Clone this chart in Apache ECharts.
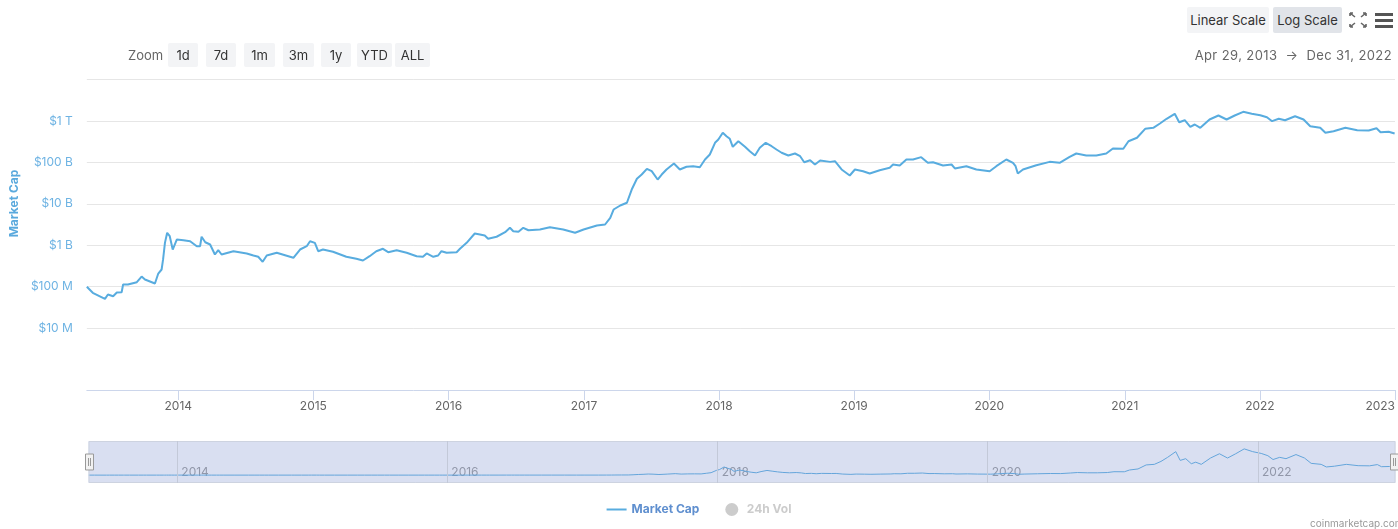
<!DOCTYPE html>
<html><head><meta charset="utf-8">
<script src="https://cdn.jsdelivr.net/npm/echarts@6/dist/echarts.min.js"></script>
<style>
html,body{margin:0;padding:0;background:#fff;}
#chart{position:absolute;left:0;top:0;width:1398px;height:529px;}
.tb{position:absolute;font-family:Inter,'Noto Sans',sans-serif;font-size:13px;color:#333;white-space:nowrap;}
.btn{height:24px;line-height:24px;background:#f3f4f6;border-radius:2px;text-align:center;}
</style></head><body>
<div id="chart"></div>
<div class="tb" style="left:128px;top:47px;color:#666;">Zoom</div>
<div class="tb btn" style="left:168px;top:43px;width:30px;">1d</div>
<div class="tb btn" style="left:206px;top:43px;width:30px;">7d</div>
<div class="tb btn" style="left:244px;top:43px;width:31px;">1m</div>
<div class="tb btn" style="left:283px;top:43px;width:31px;">3m</div>
<div class="tb btn" style="left:321px;top:43px;width:30px;">1y</div>
<div class="tb btn" style="left:357px;top:43px;width:35px;">YTD</div>
<div class="tb btn" style="left:395px;top:43px;width:35px;">ALL</div>
<div class="tb btn" style="left:1187px;top:7px;width:82px;height:26px;line-height:26px;">Linear Scale</div>
<div class="tb btn" style="left:1273px;top:7px;width:69px;height:26px;line-height:26px;background:#e1e4e9;">Log Scale</div>
<svg class="tb" style="left:1348px;top:11px;" width="20" height="18" viewBox="0 0 20 18">
 <g stroke="#666" stroke-width="1.6" fill="none">
  <path d="M2 2 L7 6 M2 2 L2 5 M2 2 L5 2"/>
  <path d="M18 2 L13 6 M18 2 L18 5 M18 2 L15 2"/>
  <path d="M2 16 L7 12 M2 16 L2 13 M2 16 L5 16"/>
  <path d="M18 16 L13 12 M18 16 L18 13 M18 16 L15 16"/>
 </g>
</svg>
<svg class="tb" style="left:1374px;top:11px;" width="20" height="18" viewBox="0 0 20 18">
 <rect x="1" y="2" width="18" height="3" fill="#555"/>
 <rect x="1" y="8" width="18" height="3" fill="#555"/>
 <rect x="1" y="14" width="18" height="3" fill="#555"/>
</svg>
<div class="tb" style="right:6px;top:47px;color:#666;letter-spacing:0.4px;">Apr 29, 2013 &nbsp;→&nbsp; Dec 31, 2022</div>
<div class="tb" style="left:1310px;top:517px;color:#999;font-size:10px;">coinmarketcap.com</div>
<script>
// ---- data ----
const dates = [
'2013-04-29','2013-05-15','2013-06-17','2013-06-25','2013-07-09','2013-07-19','2013-08-01','2013-08-05','2013-08-18','2013-09-11',
'2013-09-24','2013-10-03','2013-10-30','2013-11-08','2013-11-17','2013-11-21','2013-11-26','2013-12-02','2013-12-09','2013-12-17',
'2013-12-28','2014-01-15','2014-02-02','2014-02-20','2014-03-01','2014-03-05','2014-03-15','2014-03-28','2014-04-10','2014-04-19',
'2014-04-28','2014-05-30','2014-07-05','2014-07-23','2014-08-05','2014-08-17','2014-08-28','2014-09-24','2014-10-30','2014-11-08',
'2014-11-26','2014-12-14','2014-12-23','2015-01-05','2015-01-14','2015-01-27','2015-02-23','2015-03-31','2015-04-27','2015-05-15',
'2015-06-02','2015-06-20','2015-07-08','2015-07-22','2015-08-14','2015-09-10','2015-10-07','2015-10-24','2015-11-03','2015-11-21',
'2015-12-04','2015-12-13','2015-12-27','2016-01-23','2016-02-01','2016-02-19','2016-03-12','2016-03-26','2016-04-08','2016-04-17',
'2016-05-10','2016-06-02','2016-06-15','2016-06-24','2016-07-08','2016-07-21','2016-08-04','2016-09-04','2016-10-01','2016-11-06',
'2016-12-08','2016-12-31','2017-02-05','2017-02-27','2017-03-13','2017-03-22','2017-04-09','2017-04-27','2017-05-10','2017-05-24',
'2017-06-06','2017-06-20','2017-07-03','2017-07-19','2017-07-30','2017-08-12','2017-09-01','2017-09-17','2017-10-05','2017-10-23',
'2017-11-10','2017-11-24','2017-12-07','2017-12-21','2017-12-30','2018-01-11','2018-01-21','2018-01-30','2018-02-07','2018-02-22',
'2018-03-12','2018-03-25','2018-04-08','2018-04-21','2018-05-07','2018-05-23','2018-06-05','2018-06-19','2018-07-07','2018-07-25',
'2018-08-08','2018-08-19','2018-09-04','2018-09-17','2018-10-01','2018-10-28','2018-11-10','2018-11-28','2018-12-20','2019-01-03',
'2019-01-25','2019-02-12','2019-03-11','2019-04-07','2019-04-16','2019-05-04','2019-05-22','2019-06-09','2019-07-01','2019-07-19',
'2019-08-02','2019-08-29','2019-09-21','2019-09-30','2019-10-31','2019-11-27','2020-01-02','2020-01-20','2020-02-16','2020-03-05',
'2020-03-12','2020-03-18','2020-04-01','2020-05-07','2020-06-12','2020-07-09','2020-08-05','2020-08-23','2020-09-19','2020-10-16',
'2020-11-12','2020-11-30','2020-12-28','2021-01-11','2021-02-03','2021-02-25','2021-03-19','2021-04-06','2021-04-24','2021-05-16',
'2021-05-28','2021-06-12','2021-06-27','2021-07-09','2021-07-24','2021-08-18','2021-09-11','2021-10-03','2021-10-25','2021-11-17',
'2021-12-10','2022-01-02','2022-01-20','2022-02-03','2022-02-21','2022-03-10','2022-04-06','2022-04-29','2022-05-17','2022-06-13',
'2022-06-27','2022-07-19','2022-08-20','2022-09-21','2022-10-22','2022-11-12','2022-11-23','2022-12-15','2022-12-31'
];
// market cap in billions of USD
const marketCapB = [
0.0989,0.0708,0.0507,0.0644,0.0586,0.0720,0.0733,0.112,0.112,0.128,
0.175,0.148,0.119,0.207,0.259,0.452,1.14,2.00,1.65,0.787,
1.37,1.32,1.25,0.946,0.946,1.60,1.18,1.04,0.596,0.757,
0.596,0.716,0.631,0.564,0.525,0.397,0.564,0.655,0.525,0.497,
0.787,0.946,1.25,1.14,0.716,0.787,0.693,0.525,0.469,0.427,
0.542,0.716,0.818,0.678,0.757,0.655,0.542,0.525,0.631,0.525,
0.564,0.716,0.655,0.678,0.818,1.14,1.92,1.81,1.71,1.43,
1.60,2.06,2.63,2.18,2.11,2.63,2.30,2.39,2.72,2.39,
2.00,2.39,3.00,3.16,4.59,7.28,9.1,10.6,22.1,40.2,
51.0,70.0,61.3,38.6,51.0,67.4,94,67.4,78.3,81.0,
76.6,117.5,155,297,357,519,429,372,238,325,
238,186,147,225,297,246,205,171,147,164,
141,101,113,89,111,103,107,67.4,48.3,67.4,
61.3,54.0,64.8,74.1,89,84.1,117.5,117.5,134,97.8,
101,84.1,89,71.3,81,67.4,61.3,81,117.5,97.8,
81,54,67.4,85.5,103,97.8,136,164,147,147,
164,217,213,325,393,648,685,870,1130,1492,
935,1045,724,823,685,1087,1358,1087,1358,1668,
1492,1380,1235,990,1130,1045,1306,1087,748,685,
519,567,685,600,590,670,536,549,499
];
const volumeB = []; // 24h Vol series is switched off in the legend
const yTickValues = [1e7, 1e8, 1e9, 1e10, 1e11, 1e12];
const yTickLabels = ['$10 M', '$100 M', '$1 B', '$10 B', '$100 B', '$1 T'];
const yGridValues = [1e7, 1e8, 1e9, 1e10, 1e11, 1e12, 1e13];
const sliderYears = ['2014-01-01', '2016-01-01', '2018-01-01', '2020-01-01', '2022-01-01'];
const xStart = '2013-04-29', xEnd = '2023-01-01';

const capSeries = dates.map((d, i) => [d, marketCapB[i] * 1e9]);
const DAY = 86400000;
const LINE = '#58acdf';
const GRID = '#e6e6e6';
const FONT = 'Inter, "Noto Sans", sans-serif';

const chart = echarts.init(document.getElementById('chart'), null, {renderer: 'canvas'});
chart.setOption({
  animation: false,
  textStyle: {fontFamily: FONT},
  grid: [
    {left: 86, right: 3, top: 79.6, height: 289.8},
    {left: 86, right: 5, top: 441, height: 42}
  ],
  xAxis: [{
    type: 'time', gridIndex: 0, min: xStart, max: xEnd, offset: 20.6,
    minInterval: 365 * DAY, maxInterval: 366 * DAY,
    axisLine: {lineStyle: {color: '#ccd6eb'}},
    axisTick: {show: true, length: 10, lineStyle: {color: '#ccd6eb'}},
    splitLine: {show: false},
    axisLabel: {formatter: '{yyyy}', color: '#666', fontSize: 12, margin: 10,
      showMinLabel: false, showMaxLabel: true, alignMaxLabel: 'right', fontFamily: FONT}
  }, {
    type: 'time', gridIndex: 1, min: xStart, max: xEnd,
    minInterval: 365 * DAY, maxInterval: 366 * DAY,
    axisLine: {show: false}, axisTick: {show: false}, splitLine: {show: false},
    axisLabel: {inside: true, align: 'left', margin: 5, padding: [0, 0, 0, 4], color: '#999', fontSize: 12,
      showMinLabel: false, showMaxLabel: false, fontFamily: FONT,
      formatter: v => { const y = new Date(v).getFullYear(); return sliderYears.some(s => s.startsWith(String(y))) && new Date(v).getMonth() === 0 ? String(y) : ''; }}
  }],
  yAxis: [{
    type: 'log', logBase: 10, gridIndex: 0, min: 1e6, max: 1e13, splitNumber: 7,
    axisLine: {show: false}, axisTick: {show: false},
    splitLine: {show: false},
    axisLabel: {color: '#6eb3e3', fontSize: 12, margin: 14, fontFamily: FONT,
      formatter: v => { const i = yTickValues.findIndex(t => Math.abs(Math.log10(v) - Math.log10(t)) < 0.01); return i >= 0 ? yTickLabels[i] : ''; }},
    name: 'Market Cap', nameLocation: 'middle', nameGap: 64,
    nameTextStyle: {color: '#5aa9dd', fontSize: 12, fontWeight: 'bold', padding: [0, 0, 0, 42], fontFamily: FONT}
  }, {
    type: 'value', gridIndex: 1, show: false
  }],
  dataZoom: [{
    type: 'slider', xAxisIndex: 0, filterMode: 'none',
    left: 86, right: 5, top: 441, height: 42, start: 0, end: 100,
    showDetail: false, brushSelect: false, moveHandleSize: 0,
    backgroundColor: 'rgba(0,0,0,0)', borderColor: '#cdd3e0',
    fillerColor: 'rgba(130,150,210,0.3)',
    handleIcon: 'path://M0,0 H8 V16 H0 Z M3,4 V12 M5,4 V12',
    handleSize: '38%',
    handleStyle: {color: '#f2f2f2', borderColor: '#999', borderWidth: 1},
    dataBackground: {lineStyle: {color: LINE, width: 1, opacity: 1}, areaStyle: {opacity: 0}},
    selectedDataBackground: {lineStyle: {color: LINE, width: 1, opacity: 1}, areaStyle: {opacity: 0}}
  }],
  legend: {
    top: 498, left: 'center', itemGap: 26, itemWidth: 20, itemHeight: 13,
    textStyle: {fontSize: 12, fontWeight: 'bold', color: '#5f8fcf', fontFamily: FONT},
    inactiveColor: '#ccc',
    data: [
      {name: 'Market Cap', icon: 'path://M0,0 H20 V2 H0 Z'},
      {name: '24h Vol', icon: 'circle'}
    ],
    selected: {'24h Vol': false}
  },
  series: [{
    name: 'Market Cap', type: 'line', xAxisIndex: 0, yAxisIndex: 0,
    data: capSeries, showSymbol: false, symbol: 'none', z: 10,
    lineStyle: {color: LINE, width: 2}, itemStyle: {color: LINE}
  }, {
    name: '24h Vol', type: 'bar', xAxisIndex: 0, yAxisIndex: 0,
    data: volumeB, itemStyle: {color: '#ccc'}
  }, {
    name: 'gridLines', type: 'line', xAxisIndex: 0, yAxisIndex: 0, data: [],
    silent: true, z: 0,
    markLine: {symbol: 'none', silent: true, z: 0, label: {show: false},
      lineStyle: {color: GRID, type: 'solid', width: 1},
      emphasis: {disabled: true},
      data: yGridValues.map(v => ({yAxis: v}))}
  }, {
    name: 'sliderMarks', type: 'line', xAxisIndex: 1, yAxisIndex: 1, data: [],
    silent: true,
    markLine: {symbol: 'none', silent: true, label: {show: false},
      lineStyle: {color: '#c3c9d8', type: 'solid', width: 1},
      data: sliderYears.map(d => ({xAxis: d}))}
  }]
});
</script>
</body></html>
